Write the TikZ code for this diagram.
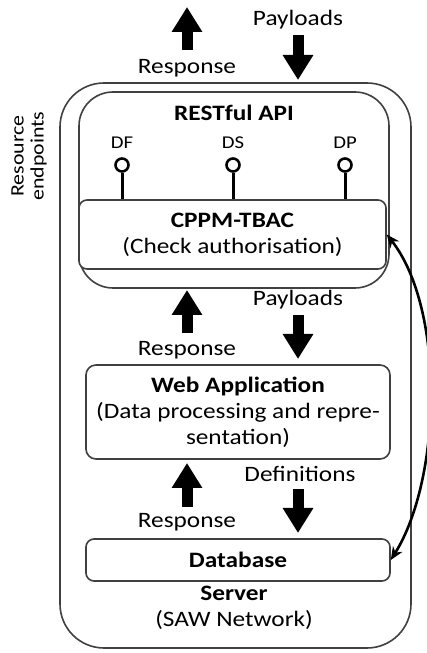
\documentclass[tikz,border=0pt]{standalone}
\usepackage{fontspec}
\setmainfont{Carlito}[FakeStretch=1.15]
\usetikzlibrary{arrows.meta,positioning}

\begin{document}
\begin{tikzpicture}[
  x=0.5pt, y=0.5pt,
  font=\fontsize{11}{13}\selectfont,
  box/.style={draw=black!75, line width=0.8pt, fill=white, rounded corners=4pt,
    align=center, inner sep=0pt},
  title/.style={font=\fontsize{11}{13}\selectfont\bfseries},
  tag/.style={font=\fontsize{9}{10}\selectfont, inner sep=1pt},
  pinhead/.style={circle, draw, line width=1.3pt, minimum size=6.5pt, inner sep=0pt},
  pinline/.style={line width=1.5pt},
  blk/.style={-{Triangle[width=14.5pt, length=12.5pt]}, line width=5.5pt},
  link/.style={{Stealth[length=6.5pt, width=5.5pt]}-{Stealth[length=6.5pt, width=5.5pt]},
    line width=1.3pt}
]
  \useasboundingbox (0,0) rectangle (427,653);

  \node[box, rounded corners=22pt, minimum width=175.5pt, minimum height=282.5pt] (server) at (235.5,287.5) {};
  \node[box, rounded corners=17pt, minimum width=155pt, minimum height=98pt] (api) at (234,463) {};
  \node[title] (apititle) at (234,540) {RESTful API};
  \node[box, minimum width=153.5pt, minimum height=34.5pt] (cppm) at (232.5,418.5)
    {\textbf{CPPM-TBAC}\\(Check authorisation)};
  \node[box, rounded corners=5pt, minimum width=152pt, minimum height=47pt] (webapp) at (238,241)
    {\textbf{Web Application}\\(Data processing and repre-\\sentation)};
  \node[box, minimum width=152pt, minimum height=21pt] (db) at (238,93) {\textbf{Database}};
  \node[align=center] (srvlabel) at (234,45) {\textbf{Server}\\(SAW Network)};

  \node[rotate=90, align=center, font=\fontsize{9.5}{10}\selectfont] (endpoints) at (29,497)
    {Resource\\endpoints};

  \node[pinhead] (dfpin) at (122,488) {};
  \node[pinhead] (dspin) at (233,488) {};
  \node[pinhead] (dppin) at (345,488) {};
  \node[tag, above=3pt of dfpin] (df) {DF};
  \node[tag, above=3pt of dspin] (ds) {DS};
  \node[tag, above=3pt of dppin] (dp) {DP};
  \draw[pinline] (dfpin.south) -- (dfpin.south |- cppm.north);
  \draw[pinline] (dspin.south) -- (dspin.south |- cppm.north);
  \draw[pinline] (dppin.south) -- (dppin.south |- cppm.north);

  \node (resp1) at (187,585) {Response};
  \node (pay1) at (298,633) {Payloads};
  \coordinate (resp1a) at (187,603);
  \coordinate (resp1b) at (187,646);
  \coordinate (pay1a) at (298,618);
  \coordinate (pay1b) at (298,573);
  \draw[blk] (resp1a) -- (resp1b);
  \draw[blk] (pay1a) -- (pay1b);

  \node (resp2) at (187,303) {Response};
  \node (pay2) at (298,353) {Payloads};
  \coordinate (resp2a) at (187,320);
  \coordinate (resp2b) at (187,363);
  \coordinate (pay2a) at (298,338);
  \coordinate (pay2b) at (298,294);
  \draw[blk] (resp2a) -- (resp2b);
  \draw[blk] (pay2a) -- (pay2b);

  \node (resp3) at (187,131) {Response};
  \node (defs) at (300,179) {Definitions};
  \coordinate (resp3a) at (187,146);
  \coordinate (resp3b) at (187,190);
  \coordinate (defsa) at (298,164);
  \coordinate (defsb) at (298,120);
  \draw[blk] (resp3a) -- (resp3b);
  \draw[blk] (defsa) -- (defsb);

  \draw[link] (cppm.east) to[out=-52, in=58, looseness=0.75] (db.east);
\end{tikzpicture}
\end{document}
